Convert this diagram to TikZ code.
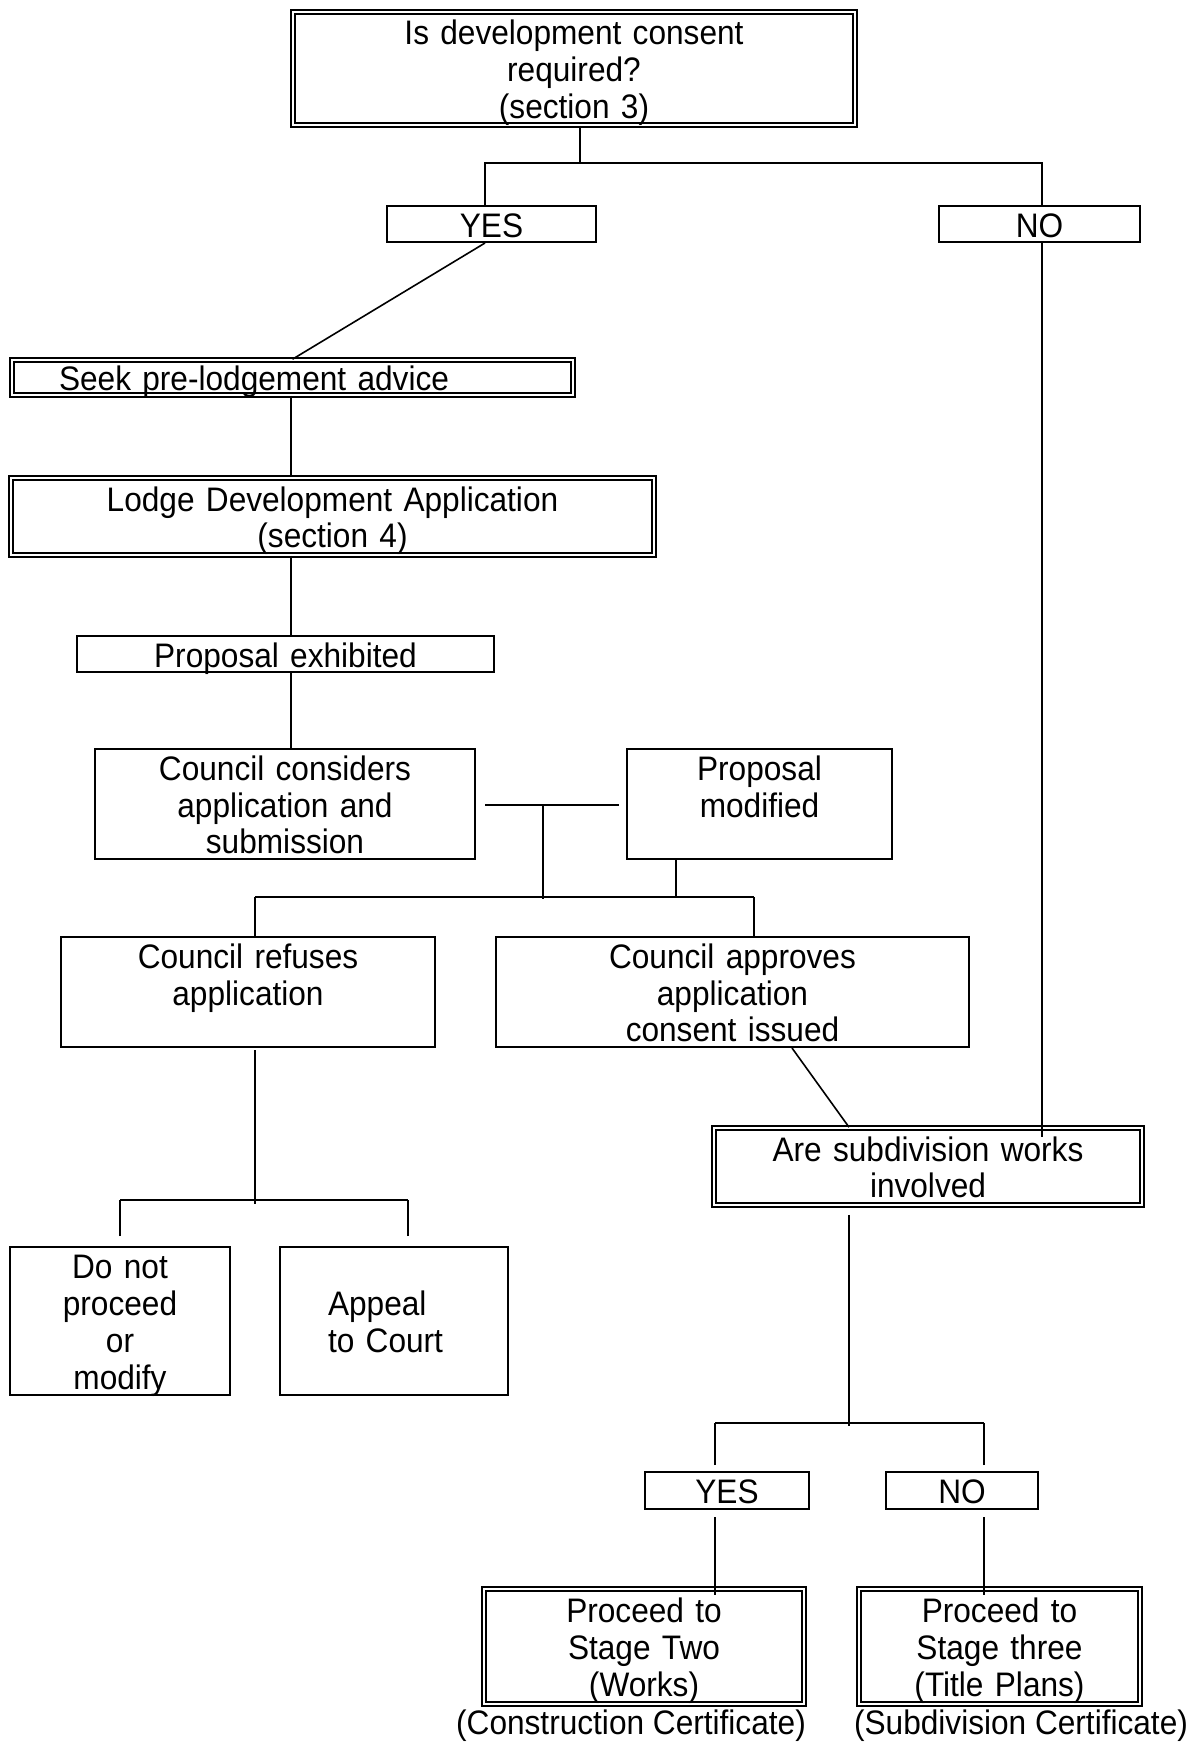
\documentclass[tikz,border=0pt]{standalone}
\usepackage{fontspec}
\setmainfont{Liberation Sans}[FakeStretch=0.93]
\usetikzlibrary{calc}
\tikzset{
  box/.style={draw, line width=2pt, align=center, inner xsep=0pt, inner ysep=-4pt, font=\fontsize{34}{36.7}\selectfont,
    execute at begin node={\rule{0pt}{33.5pt}}, execute at end node={\rule[-7.5pt]{0pt}{7.5pt}}},
  dbox/.style={box, double, line width=1.6pt, double distance=2.8pt},
  caption/.style={inner sep=0pt, font=\fontsize{34}{36.7}\selectfont},
  link/.style={line width=1.6pt},
  trunk/.style={line width=2.6pt}
}

\begin{document}
\begin{tikzpicture}[x=1pt,y=-1pt]
	%%%%% START %%%%%
	\useasboundingbox (0,0) rectangle (1194,1744);
	
	\node[dbox, text width=562pt, minimum height=113pt] (consent) at (574,68.5) {Is development consent\\required?\\(section 3)};
	\node[box, text width=209pt, minimum height=36pt] (yesA) at (491.5,224) {YES};
	\node[box, text width=201pt, minimum height=36pt] (noA) at (1039.5,224) {NO};
	
	\node[dbox, align=left, inner xsep=47pt, text width=467pt, minimum height=35pt] (advice) at (292.5,377.5) {Seek pre-lodgement advice};
	\node[dbox, text width=643pt, minimum height=77pt] (lodge) at (332.5,516.5) {Lodge Development Application\\(section 4)};
	\node[box, text width=417pt, minimum height=36pt] (exhibit) at (285.5,654) {Proposal exhibited};
	
	\node[box, text width=380pt, minimum height=110pt] (consider) at (285,804) {Council considers\\application and\\submission};
	\node[box, text width=265pt, minimum height=110pt] (modify) at (759.5,804) {Proposal\\modified\\\mbox{}};
	
	\node[box, text width=374pt, minimum height=110pt] (refuse) at (248,992) {Council refuses\\application\\\mbox{}};
	\node[box, text width=473pt, minimum height=110pt] (approve) at (732.5,992) {Council approves\\application\\consent issued};
	
	\node[dbox, text width=428pt, minimum height=77pt] (subdiv) at (928,1166.5) {Are subdivision works\\involved};
	
	\node[box, text width=220pt, minimum height=148pt] (abandon) at (120,1321) {Do not\\proceed\\or\\modify};
	\node[box, align=left, inner xsep=48pt, text width=132pt, minimum height=148pt] (appeal) at (394,1321) {Appeal\\to Court};
	
	\node[box, text width=164pt, minimum height=37pt] (yesB) at (727,1490.5) {YES};
	\node[box, text width=152pt, minimum height=37pt] (noB) at (962,1490.5) {NO};
	
	\node[dbox, text width=320pt, minimum height=115pt] (works) at (644,1646.5) {Proceed to\\Stage Two\\(Works)};
	\node[dbox, text width=281pt, minimum height=115pt] (plans) at (999.5,1646.5) {Proceed to\\Stage three\\(Title Plans)};
	\node[caption] (cc) at (631,1726) {(Construction Certificate)};
	\node[caption] (sc) at (1021,1726) {(Subdivision Certificate)};
	
	% connectors
	\coordinate (topfork) at (580,163);
	\draw[trunk] (consent.south -| topfork) -- (topfork);
	\draw[link] ($(yesA.north)+(-6.5,0)$) |- (topfork) -| ($(noA.north)+(2.5,0)$);
	\draw[link] ($(yesA.south)+(-6.5,0)$) -- (advice.north);
	
	\coordinate (spine) at (291,0);
	\draw[link] (advice.south -| spine) -- (lodge.north -| spine);
	\draw[link] (lodge.south -| spine) -- (exhibit.north -| spine);
	\draw[link] (exhibit.south -| spine) -- (consider.north -| spine);
	
	\coordinate (tee) at (543,805);
	\coordinate (midfork) at (543,897);
	\draw[link] ($(consider.east)+(9,1)$) -- ($(modify.west)+(-7,1)$);
	\draw[trunk] (tee) -- ($(midfork)+(0,2)$);
	\draw[trunk] ($(modify.south)+(-83.5,0)$) coordinate (md) -- (md |- midfork);
	\draw[link] ($(refuse.north)+(7,0)$) coordinate (rf) -- (rf |- midfork);
	\draw[link] ($(approve.north)+(21.5,0)$) coordinate (af) -- (af |- midfork);
	\draw[trunk] (rf |- midfork) -- (af |- midfork);
	
	\coordinate (lowfork) at (255,1200);
	\draw[trunk] ($(refuse.south)+(7,2)$) -- ($(lowfork)+(0,4)$);
	\draw[link] ($(abandon.north)+(0,-10)$) coordinate (sf) -- (sf |- lowfork);
	\draw[link] ($(appeal.north)+(14,-10)$) coordinate (pf) -- (pf |- lowfork);
	\draw[trunk] (sf |- lowfork) -- (pf |- lowfork);
	
	\draw[link] ($(approve.south)+(59.5,0)$) -- ($(subdiv.north)+(-79,0)$);
	\draw[link] ($(noA.south)+(2.5,0)$) coordinate (nd) -- ($(nd |- subdiv.north)+(0,10)$);
	
	\coordinate (endfork) at (849,1423);
	\draw[trunk] ($(subdiv.south)+(-79,9)$) -- ($(endfork)+(0,3)$);
	\draw[link] ($(yesB.north)+(-12,-6)$) coordinate (yf) -- (yf |- endfork);
	\draw[link] ($(noB.north)+(22,-6)$) coordinate (nf) -- (nf |- endfork);
	\draw[trunk] (yf |- endfork) -- (nf |- endfork);
	\draw[link] ($(yesB.south)+(-12,7)$) coordinate (yd) -- ($(yd |- works.north)+(0,7)$);
	\draw[link] ($(noB.south)+(22,7)$) coordinate (ne) -- ($(ne |- plans.north)+(0,7)$);
	
	%%%%% END %%%%%
\end{tikzpicture}
\end{document}
